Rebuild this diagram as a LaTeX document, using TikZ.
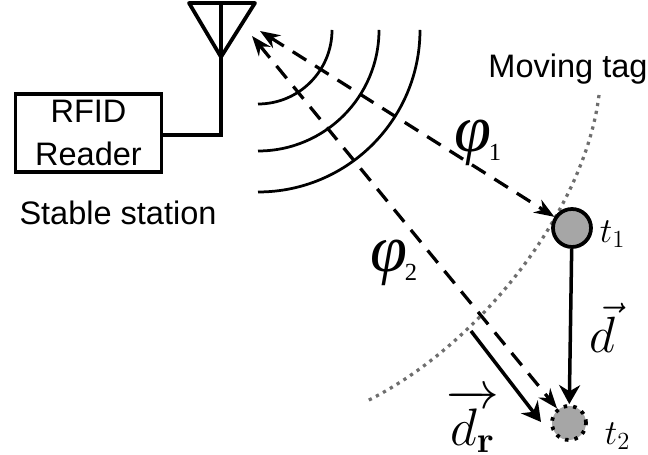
\documentclass[tikz,border=0pt]{standalone}
\usepackage{fix-cm}
\usepackage{amsmath,amssymb}
\usepackage[no-math]{fontspec}
\setmainfont{Liberation Sans}
\newfontfamily\phifont{Liberation Serif}
\usetikzlibrary{arrows.meta, positioning}
\definecolor{tagfill}{HTML}{A6A6A6}
\definecolor{pathgrey}{HTML}{6E6E6E}
\newcommand{\phisub}[1]{\kern-0.04em\raisebox{-0.14em}{\fontsize{14}{14}\selectfont\upshape #1}}
\tikzset{
    rfid edge/.style={
        line width=0.075cm
    },
    rfid wave/.style={
        line width=0.055cm
    },
    phase arrow/.style={
        line width=0.065cm,
        dash pattern=on 0.32cm off 0.21cm,
        {Stealth[length=0.4cm, width=0.3cm]}-{Stealth[length=0.4cm, width=0.3cm]}
    },
    move arrow/.style={
        line width=0.07cm,
        -{Stealth[length=0.38cm, width=0.42cm]}
    },
    tag path/.style={
        pathgrey,
        line width=0.065cm,
        dash pattern=on 0.065cm off 0.095cm
    },
    tag node/.style={
        circle,
        inner sep=0pt,
        fill=tagfill,
        draw=black
    },
    sans label/.style={
        font=\fontsize{18.5}{24}\selectfont,
        align=center,
        inner sep=0pt
    },
    phi label/.style={
        font=\fontsize{38}{38}\selectfont\phifont\itshape,
        inner sep=0pt
    },
    math label/.style={
        inner sep=0pt
    }
}

\begin{document}
\begin{tikzpicture}
                \useasboundingbox (0,0) rectangle (12.96,9.1);

                % Moving path of the tag
                \draw[tag path] (11.98,7.2) .. controls (11.7,4.9) and (9.6,2.2) .. (7.34,1.08);

                % Reader and antenna
                \node[rfid edge, draw, sans label, minimum width=2.92cm, minimum height=1.56cm] (reader) at (1.77,6.44) {RFID\\Reader};
                \coordinate (feed) at (3.26,6.4);
                \coordinate (anttop) at (4.42,9.04);
                \coordinate (antleft) at (3.78,9.04);
                \coordinate (antright) at (5.1,9.04);
                \coordinate (anttip) at (4.42,7.96);
                \draw[rfid edge, line join=round] (antleft) -- (antright) -- (anttip) -- cycle;
                \draw[rfid edge] (feed) -| (anttop);

                % Radio waves
                \foreach \r in {1.48,2.42,3.24} {
                    \draw[rfid wave] (5.16,8.5-\r) arc (-90:0:\r);
                }

                % Tags
                \node[tag node, line width=0.075cm, minimum size=0.76cm] (tagone) at (11.44,4.54) {};
                \node[tag node, line width=0.075cm, dash pattern=on 0.07cm off 0.12cm, minimum size=0.68cm] (tagtwo) at (11.38,0.64) {};

                % Phase measurements
                \coordinate (rxone) at (5.2,8.48);
                \coordinate (rxtwo) at (5.04,8.38);
                \draw[phase arrow] (rxone) -- (tagone);
                \draw[phase arrow] (rxtwo) -- (tagtwo);

                % Displacement
                \coordinate (radialstart) at (9.42,2.48);
                \coordinate (radialend) at (10.82,0.66);
                \draw[move arrow] (tagone) -- (tagtwo);
                \draw[move arrow] (radialstart) -- (radialend);

                % Labels
                \node[sans label] (stable) at (2.36,4.84) {Stable station};
                \node[sans label] (moving) at (11.36,7.72) {Moving tag};
                \node[phi label] (phione) at (9.56,6.24) {φ\phisub{1}};
                \node[phi label] (phitwo) at (7.88,3.84) {φ\phisub{2}};
                \node[math label, font=\fontsize{20}{20}\selectfont] (tone) at (12.25,4.42) {$t_1$};
                \node[math label, font=\fontsize{20}{20}\selectfont] (ttwo) at (12.35,0.38) {$t_2$};
                \node[math label, font=\fontsize{29}{29}\selectfont] (dvec) at (12.05,2.54) {$\vec{d}$};
                \node[math label, font=\fontsize{30}{30}\selectfont] (dradial) at (9.45,0.68) {$\overrightarrow{d_{\mathbf{r}}}$};
\end{tikzpicture}
\end{document}
